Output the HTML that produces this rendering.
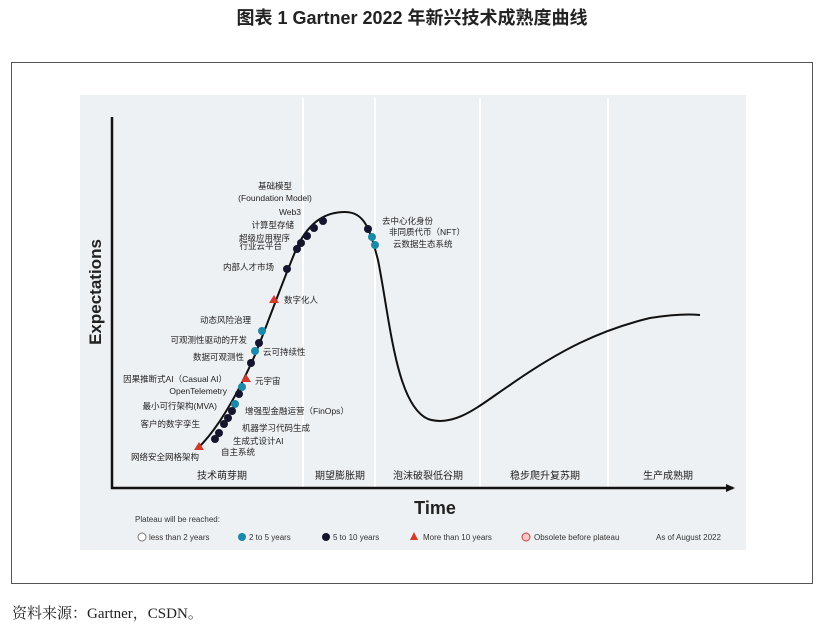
<!DOCTYPE html>
<html><head><meta charset="utf-8"><style>
body{margin:0;background:#fff;width:825px;height:631px;overflow:hidden;font-family:"Liberation Sans","Noto Sans CJK SC",sans-serif}
svg{position:absolute;left:0;top:0}
</style></head><body>
<svg width="825" height="631" font-family="Liberation Sans, Noto Sans CJK SC, sans-serif">
<text x="412" y="24" text-anchor="middle" font-size="18" font-weight="bold" fill="#222">图表 1  Gartner 2022 年新兴技术成熟度曲线</text>
<rect x="11.5" y="62.5" width="801" height="521" fill="#fff" stroke="#555"/>
<rect x="80" y="95" width="666" height="455" fill="#eef1f4"/>
<g stroke="#fff" stroke-width="2">
<line x1="303" y1="98" x2="303" y2="487"/><line x1="375" y1="98" x2="375" y2="487"/><line x1="480" y1="98" x2="480" y2="487"/><line x1="608" y1="98" x2="608" y2="487"/>
</g>
<path d="M112 117 V488 H733" fill="none" stroke="#111" stroke-width="2.5"/>
<polygon points="735,488 726,484 726,492" fill="#111"/>
<text transform="translate(101,292) rotate(-90)" text-anchor="middle" font-size="17" font-weight="bold" fill="#222">Expectations</text>
<text x="435" y="514" text-anchor="middle" font-size="18" font-weight="bold" fill="#222">Time</text>
<g font-size="10" fill="#222" text-anchor="middle">
<text x="222" y="479">技术萌芽期</text><text x="340" y="479">期望膨胀期</text><text x="428" y="479">泡沫破裂低谷期</text><text x="545" y="479">稳步爬升复苏期</text><text x="668" y="479">生产成熟期</text>
</g>
<path d="M197 449 C215 432,235 400,255 355 C272 312,285 275,298 245 C310 222,325 212,345 212 C365 212,370 230,378 260 C390 320,396 405,428 419 C455 428,480 405,510 385 C560 350,600 330,650 318 C675 314,690 314,700 315" fill="none" stroke="#111" stroke-width="2"/>
<g id="marks"></g>
<g font-size="8" fill="#333">
<text x="135" y="522">Plateau will be reached:</text>
<circle cx="142" cy="537" r="4" fill="#fff" stroke="#777"/><text x="149" y="540">less than 2 years</text>
<circle cx="242" cy="537" r="4" fill="#1a8aa8"/><text x="249" y="540">2 to 5 years</text>
<circle cx="326" cy="537" r="4" fill="#15162e"/><text x="333" y="540">5 to 10 years</text>
<polygon points="414,532 418,540 410,540" fill="#d23a2a"/><text x="423" y="540">More than 10 years</text>
<circle cx="526" cy="537" r="4" fill="#f3c8c8" stroke="#c44"/><text x="534" y="540">Obsolete before plateau</text>
<text x="656" y="540">As of August 2022</text>
</g>
<text x="12" y="618" font-size="15" fill="#222" font-family="Liberation Serif, Noto Serif CJK SC, serif">资料来源：Gartner，CSDN。</text>
</svg>
<script>
const names=["基础模型","Web3","计算型存储","超级应用程序","行业云平台","内部人才市场","数字化人","动态风险治理","可观测性驱动的开发","云可持续性","数据可观测性","元宇宙","因果推断式AI（Casual AI）","OpenTelemetry","增强型金融运营（FinOps）","最小可行架构(MVA)","客户的数字孪生","机器学习代码生成","生成式设计AI","自主系统","网络安全网格架构","去中心化身份","非同质代币（NFT）","云数据生态系统"];
const xs=[323,314,307,301,297,287,274,262,259,255,251,246,242,239,235,232,228,224,219,215,199,368,372,375];
const ys=[221,228,236,243,249,269,300,331,343,351,363,379,387,394,404,411,418,424,433,439,447,229,237,245];
const kinds=["d","d","d","d","d","d","t","b","d","b","d","t","b","d","b","d","d","d","d","d","t","d","b","b"];
const lx=[275,301,294,290,282,274,284,251,247,263,244,255,227,227,245,217,200,242,233,221,165,382,389,393];
const ly=[189,215,228,241,249,270,303,323,343,355,360,384,382,394,414,409,427,431,444,455,460,224,235,247];
const anchors=["middle","end","end","end","end","end","start","end","end","start","end","start","end","end","start","end","end","start","start","start","middle","start","start","start"];
const g=document.getElementById('marks');
const NS="http://www.w3.org/2000/svg";
for(let i=0;i<names.length;i++){
 let m;
 if(kinds[i]==="t"){m=document.createElementNS(NS,'polygon');m.setAttribute('points',`${xs[i]},${ys[i]-5} ${xs[i]+5},${ys[i]+3} ${xs[i]-5},${ys[i]+3}`);m.setAttribute('fill','#d23a2a');}
 else{m=document.createElementNS(NS,'circle');m.setAttribute('cx',xs[i]);m.setAttribute('cy',ys[i]);m.setAttribute('r',4);m.setAttribute('fill',kinds[i]==="b"?'#1a8aa8':'#15162e');}
 
 
 g.appendChild(m);
 const t=document.createElementNS(NS,'text');
 t.setAttribute('x',lx[i]);t.setAttribute('y',ly[i]);t.setAttribute('font-size','8.5');t.setAttribute('fill','#222');t.setAttribute('text-anchor',anchors[i]);
 t.textContent=names[i];
 
 
 g.appendChild(t);
}
const t2=document.createElementNS(NS,'text');
t2.setAttribute('x',275);t2.setAttribute('y',201);t2.setAttribute('font-size','8.5');t2.setAttribute('fill','#222');t2.setAttribute('text-anchor','middle');
t2.textContent='(Foundation Model)';


g.appendChild(t2);
</script>
</body></html>
